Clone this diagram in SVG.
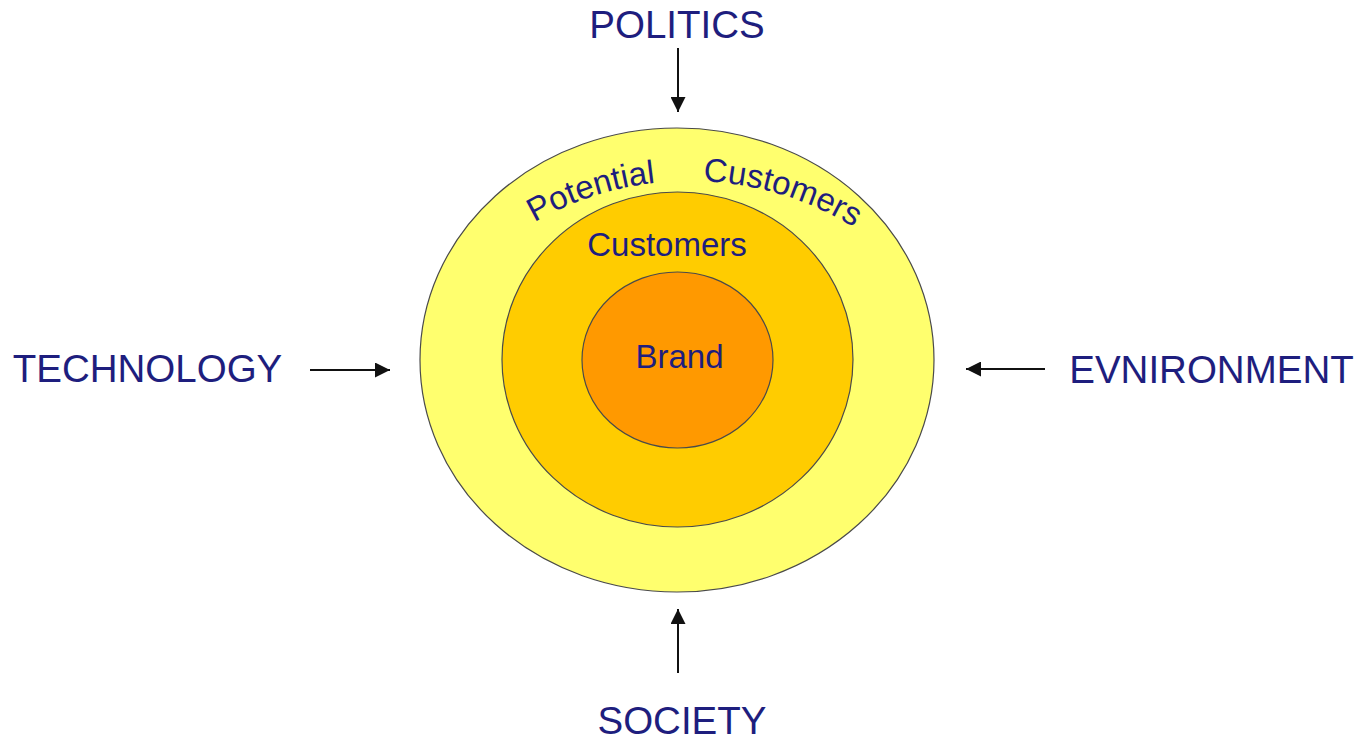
<svg xmlns="http://www.w3.org/2000/svg" width="1372" height="740" viewBox="0 0 1372 740">
  <style>
    .ring { stroke: #4a4a4a; stroke-width: 1.2; }
    .label { font-family: "Liberation Sans", Arial, sans-serif; fill: #1e1e7e; }
    .force { font-size: 38.5px; text-anchor: middle; }
    .inner { font-size: 33px; }
    .link { stroke: #111; stroke-width: 2; fill: none; marker-end: url(#head); }
  </style>
  <defs>
    <marker id="head" viewBox="0 0 15 15" refX="15" refY="7.5" markerWidth="15" markerHeight="15" markerUnits="userSpaceOnUse" orient="auto">
      <path d="M0,0 L15,7.5 L0,15 z" fill="#111"/>
    </marker>
    <!-- baseline arc for the outer ring label -->
    <path id="arc" d="M 530 225 A 312 312 0 0 1 858 230" fill="none"/>
  </defs>

  <rect width="1372" height="740" fill="#ffffff"/>

  <!-- concentric rings -->
  <g id="potential-customers">
    <ellipse class="ring" cx="677" cy="360" rx="257" ry="232" fill="#ffff6e"/>
    <text class="label inner"><textPath href="#arc" startOffset="5">Potential</textPath></text>
    <text class="label inner"><textPath href="#arc" startOffset="181">Customers</textPath></text>
  </g>
  <g id="customers">
    <ellipse class="ring" cx="677.5" cy="359.5" rx="175.5" ry="167.5" fill="#ffcc00"/>
    <text class="label inner" x="667" y="256" text-anchor="middle">Customers</text>
  </g>
  <g id="brand">
    <ellipse class="ring" cx="677.5" cy="360" rx="95.5" ry="88" fill="#ff9900"/>
    <text class="label inner" x="679.5" y="368" text-anchor="middle">Brand</text>
  </g>

  <!-- external forces -->
  <g id="politics">
    <text class="label force" x="677" y="38">POLITICS</text>
  </g>
  <g id="technology">
    <text class="label force" x="147.5" y="382">TECHNOLOGY</text>
  </g>
  <g id="environment">
    <text class="label force" x="1211.5" y="383">EVNIRONMENT</text>
  </g>
  <g id="society">
    <text class="label force" x="682" y="734">SOCIETY</text>
  </g>

  <g id="connectors">
    <line class="link" x1="678" y1="48" x2="678" y2="112"/>
    <line class="link" x1="678" y1="673" x2="678" y2="609"/>
    <line class="link" x1="310" y1="370" x2="390" y2="370"/>
    <line class="link" x1="1045" y1="369" x2="966" y2="369"/>
  </g>
</svg>
